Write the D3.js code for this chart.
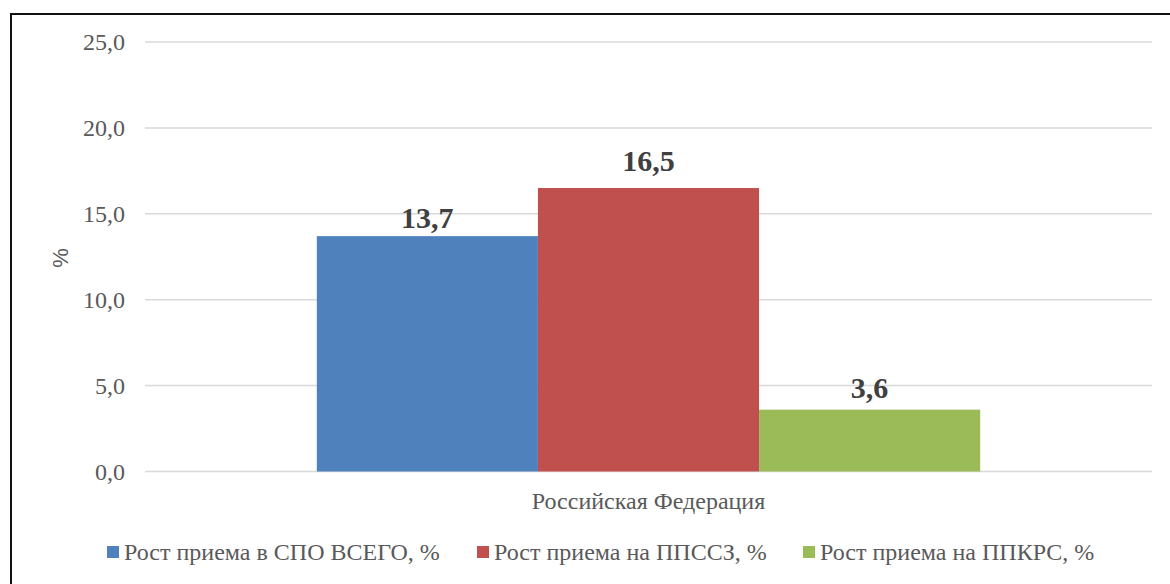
<!DOCTYPE html>
<html>
<head>
<meta charset="utf-8">
<script src="https://cdn.jsdelivr.net/npm/d3@7"></script>
<style>
  body { margin: 0; background: #fff; }
</style>
</head>
<body>
<svg id="chart" width="1170" height="584"></svg>
<script>
// Data
const categories = ["Российская Федерация"];
const seriesNames = ["Рост приема в СПО ВСЕГО, %", "Рост приема на ППССЗ, %", "Рост приема на ППКРС, %"];
const seriesValues = [13.7, 16.5, 3.6];
const yTicks = [0, 5, 10, 15, 20, 25];
const colors = ["#4f81bd", "#c0504d", "#9bbb59"];

const serif = "'Liberation Serif', 'Times New Roman', Times, serif";
const svg = d3.select("#chart");

// outer frame (runs off the right/bottom edge like the original)
svg.append("rect")
  .attr("x", 11).attr("y", 14)
  .attr("width", 1200).attr("height", 620)
  .attr("fill", "none")
  .attr("stroke", "#111")
  .attr("stroke-width", 2);

const margin = { top: 42, left: 145, right: 1152, bottom: 471.5 };

const x0 = d3.scaleBand()
  .domain(categories)
  .range([margin.left, margin.right])
  .paddingInner(0)
  .paddingOuter(0.259);

const x1 = d3.scaleBand()
  .domain(seriesNames)
  .range([0, x0.bandwidth()])
  .padding(0);

const y = d3.scaleLinear()
  .domain([0, 25])
  .range([margin.bottom, margin.top]);

const fmt = d => d3.format(".1f")(d).replace(".", ",");

// gridlines
svg.append("g")
  .selectAll("line")
  .data(yTicks)
  .enter().append("line")
  .attr("x1", margin.left)
  .attr("x2", margin.right)
  .attr("y1", d => y(d))
  .attr("y2", d => y(d))
  .attr("stroke", "#d9d9d9")
  .attr("stroke-width", 1.5);

// y axis labels
const yAxis = svg.append("g")
  .attr("transform", `translate(${margin.left - 20},0)`)
  .call(d3.axisLeft(y).tickValues(yTicks).tickSize(0).tickFormat(fmt));
yAxis.attr("font-family", null);
yAxis.select(".domain").remove();
yAxis.selectAll("text")
  .attr("x", 0)
  .attr("dy", "0.32em")
  .attr("fill", "#595959")
  .style("font-family", serif)
  .style("font-size", "24px");

// y axis title (sans in the original)
svg.append("text")
  .attr("transform", "translate(68,258) rotate(-90)")
  .attr("text-anchor", "middle")
  .attr("fill", "#595959")
  .style("font-family", "'Liberation Sans', Arial, sans-serif")
  .style("font-size", "22px")
  .text("%");

// bars
const group = svg.append("g")
  .attr("transform", `translate(${x0(categories[0])},0)`);

group.selectAll("rect")
  .data(seriesValues)
  .enter().append("rect")
  .attr("x", (d, i) => x1(seriesNames[i]))
  .attr("y", d => y(d))
  .attr("width", x1.bandwidth())
  .attr("height", d => y(0) - y(d))
  .attr("fill", (d, i) => colors[i]);

// value labels (gap above each bar as placed in the original)
const labelGap = [8.5, 17, 12];
group.selectAll(".label")
  .data(seriesValues)
  .enter().append("text")
  .attr("class", "label")
  .attr("x", (d, i) => x1(seriesNames[i]) + x1.bandwidth() / 2)
  .attr("y", (d, i) => y(d) - labelGap[i])
  .attr("text-anchor", "middle")
  .attr("fill", "#404040")
  .style("font-family", serif)
  .style("font-size", "30px")
  .style("font-weight", "bold")
  .text(fmt);

// category label
svg.append("text")
  .attr("x", x0(categories[0]) + x0.bandwidth() / 2)
  .attr("y", 509)
  .attr("text-anchor", "middle")
  .attr("fill", "#595959")
  .style("font-family", serif)
  .style("font-size", "24px")
  .text(categories[0]);

// legend
const legendX = [107, 477, 803];
const legend = svg.append("g");
seriesNames.forEach((name, i) => {
  legend.append("rect")
    .attr("x", legendX[i]).attr("y", 546)
    .attr("width", 12).attr("height", 12)
    .attr("fill", colors[i]);
  legend.append("text")
    .attr("x", legendX[i] + 17)
    .attr("y", 560)
    .attr("fill", "#595959")
    .style("font-family", serif)
    .style("font-size", "24px")
    .text(name);
});
</script>
</body>
</html>
